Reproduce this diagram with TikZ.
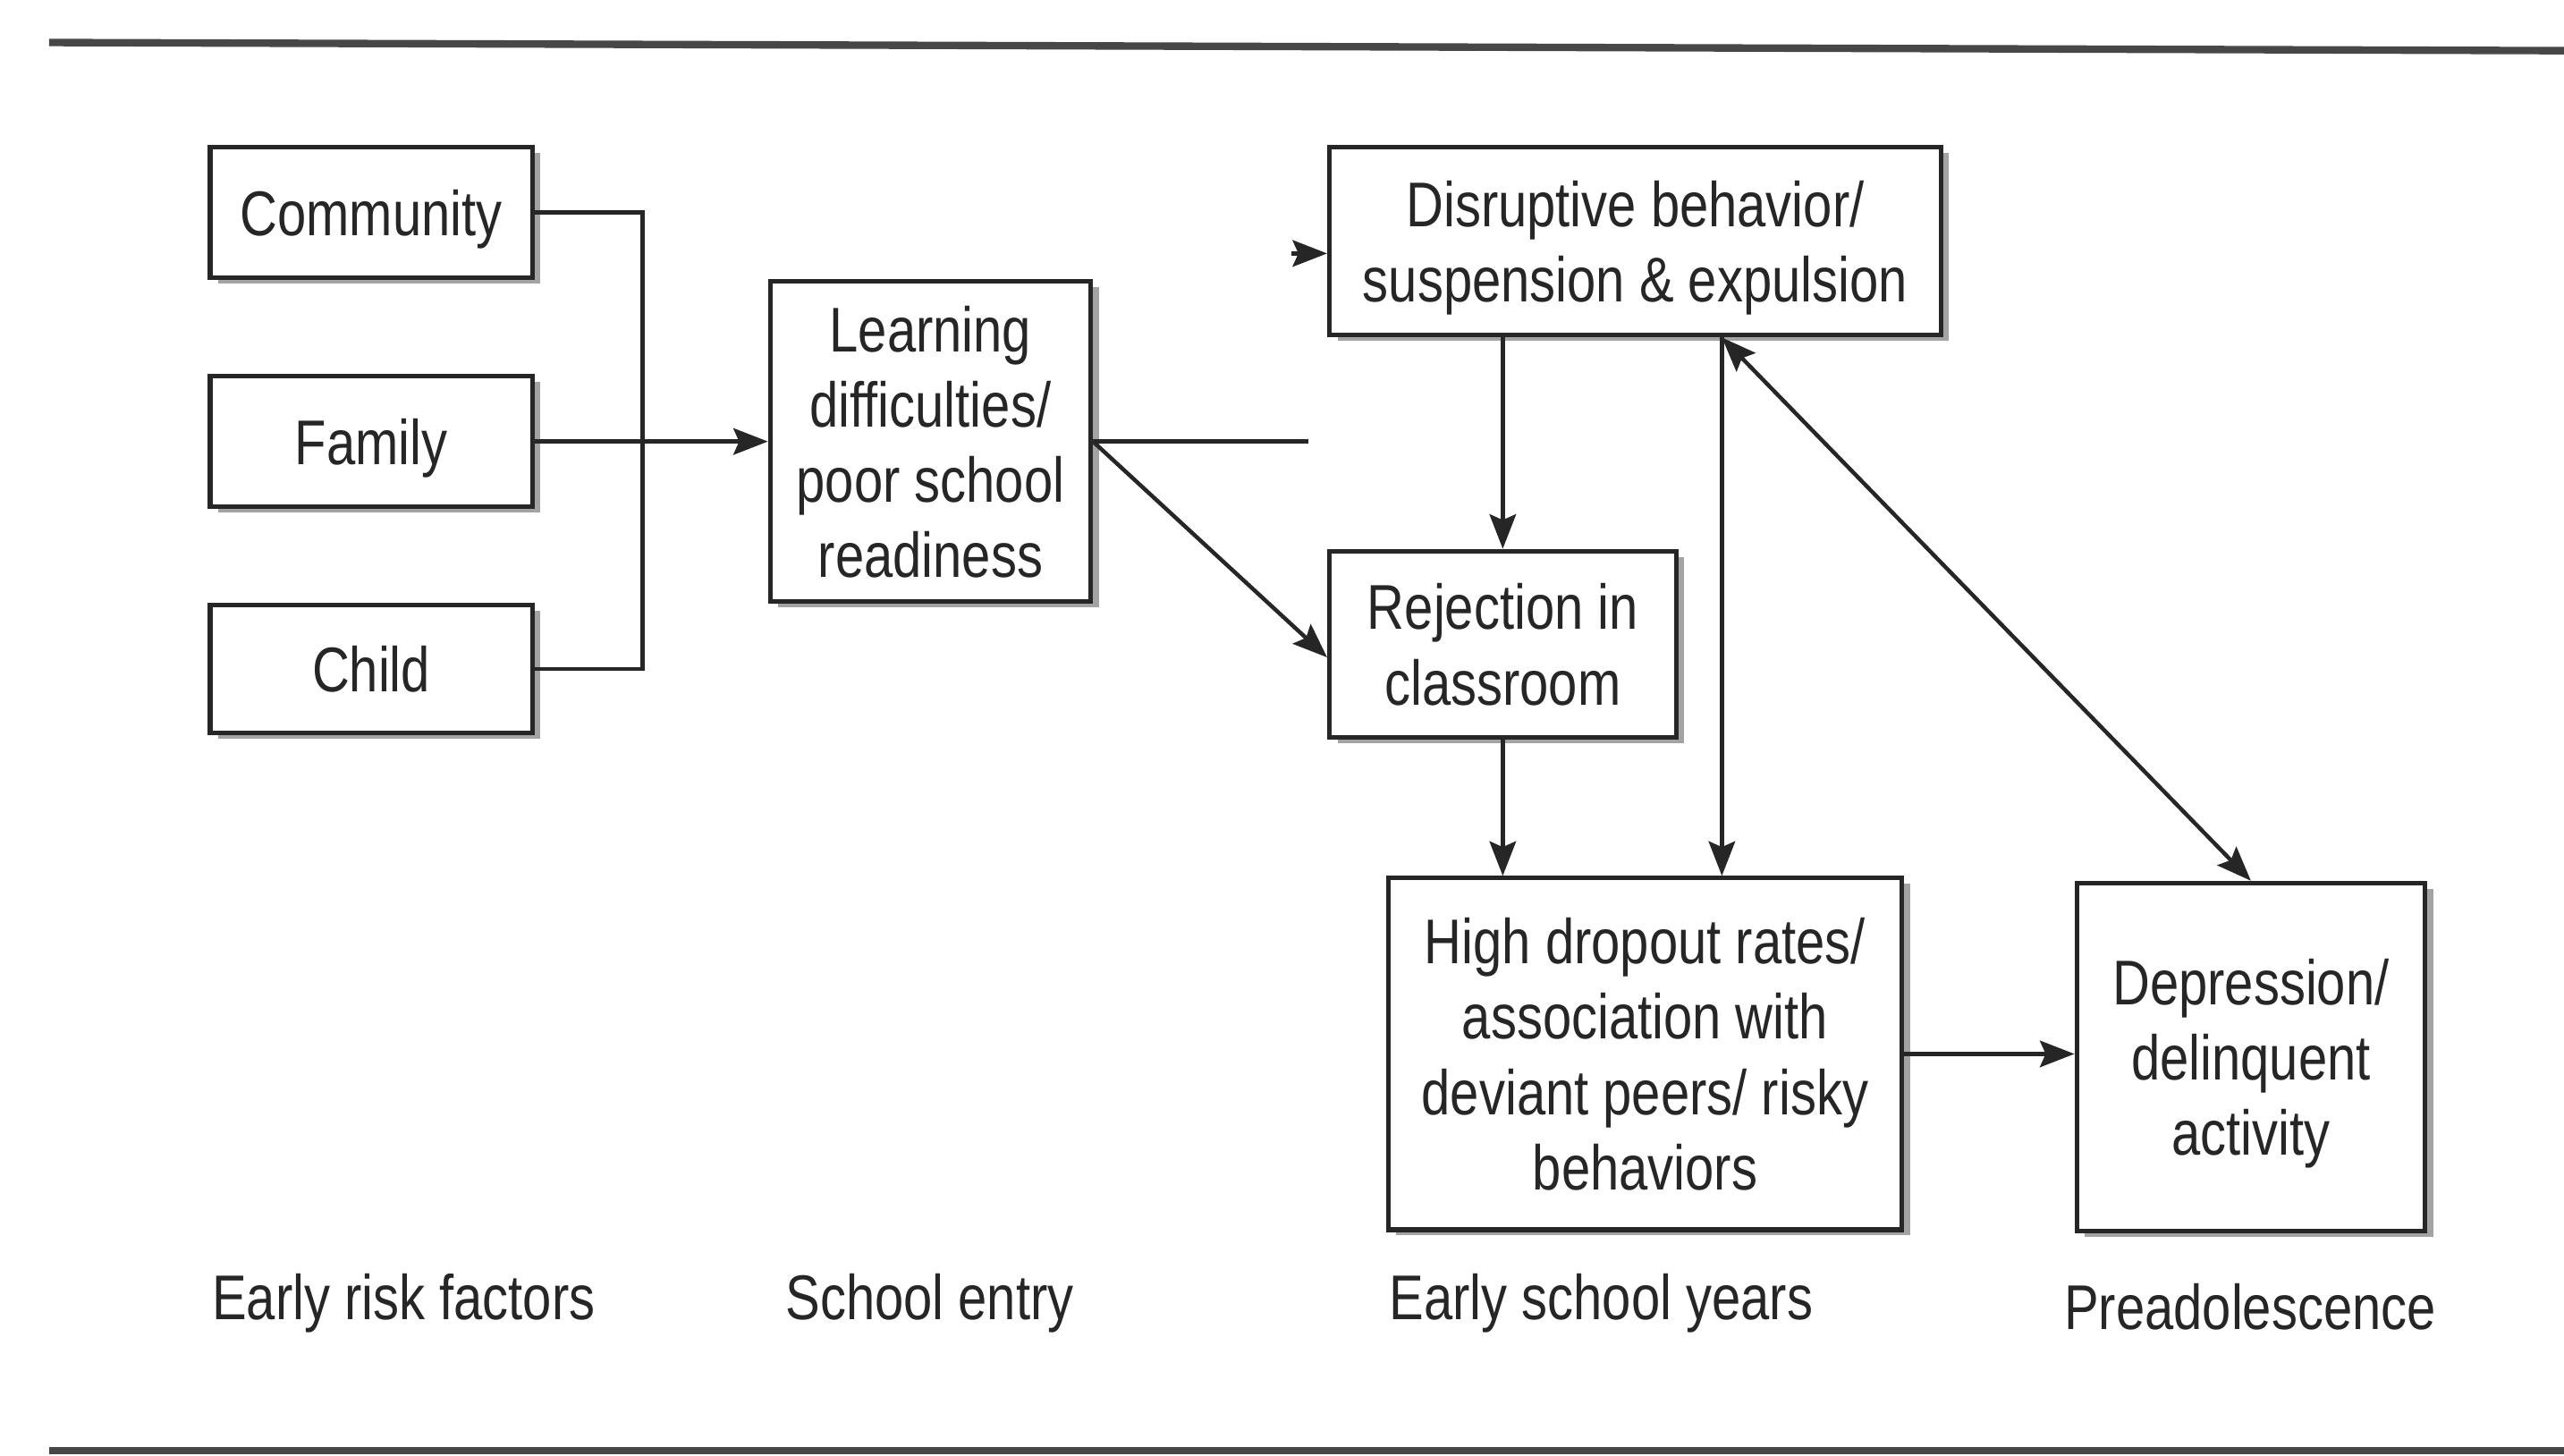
\documentclass[tikz,border=0pt]{standalone}
\usepackage{fontspec}
\setmainfont{Liberation Sans}[FakeStretch=0.82]
\usepackage{xcolor}
\definecolor{scanink}{HTML}{262626}
\definecolor{scanshade}{HTML}{8C8C8C}
\usepackage{tikz}
\usetikzlibrary{arrows.meta,shadows,calc}
\newcommand{\boxfont}{\fontsize{11pt}{13.1pt}\selectfont}
\tikzset{
  riskbox/.style={
    draw=scanink, fill=white, line width=0.8pt,
    minimum width=#1, inner sep=2pt, align=center, text depth=0pt,
    font=\boxfont, text=scanink,
    drop shadow={shadow xshift=1.4pt, shadow yshift=-1pt,
                 fill=scanshade, opacity=0.8}
  },
  stagelabel/.style={font=\boxfont, text=scanink, inner sep=0pt},
  flowline/.style={draw=scanink, line width=0.7pt},
  flowarr/.style={flowline, -{Stealth[length=6pt,width=4.6pt,inset=1pt]}},
  flowboth/.style={flowline,
    {Stealth[length=6pt,width=4.6pt,inset=1pt]}-{Stealth[length=6pt,width=4.6pt,inset=1pt]}},
  rulebar/.style={draw=scanink!85, line width=1.3pt}
}

\begin{document}
\begin{tikzpicture}
  \useasboundingbox (0,0) rectangle (15.68,-8.90);

  \draw[rulebar] (0.30,-0.26) -- (15.68,-0.31);
  \draw[rulebar] (0.30,-8.87) -- (15.68,-8.87);

  \node[riskbox=1.97cm, minimum height=0.80cm] (community) at (2.27,-1.30) {Community};
  \node[riskbox=1.97cm, minimum height=0.80cm] (family)    at (2.27,-2.70) {Family};
  \node[riskbox=1.97cm, minimum height=0.78cm] (child)     at (2.27,-4.09) {Child};

  \node[riskbox=1.96cm, minimum height=1.96cm] (learning) at (5.69,-2.70)
    {Learning\\difficulties/\\poor school\\readiness};

  \node[riskbox=3.74cm, minimum height=1.15cm] (disruptive) at (10.00,-1.475)
    {Disruptive behavior/\\suspension \& expulsion};
  \node[riskbox=2.12cm, minimum height=1.14cm] (rejection) at (9.19,-3.94)
    {Rejection in\\classroom};
  \node[riskbox=3.14cm, minimum height=2.15cm] (dropout) at (10.06,-6.445)
    {High dropout rates/\\association with\\deviant peers/ risky\\behaviors};
  \node[riskbox=2.13cm, minimum height=2.13cm] (depression) at (13.765,-6.465)
    {Depression/\\delinquent\\activity};

  \node[stagelabel, anchor=west] (earlyrisk)  at (1.29,-7.97)  {Early risk factors};
  \node[stagelabel]              (entry)      at (5.685,-7.97) {School entry};
  \node[stagelabel, anchor=west] (earlyyears) at (8.49,-7.97)  {Early school years};
  \node[stagelabel]              (preadol)    at (13.76,-7.99) {Preadolescence};

  \coordinate (joint)    at (3.93,-2.70);
  \coordinate (stub)     at (8.00,-2.70);
  \coordinate (straytail) at (7.90,-1.55);
  \coordinate (linkx)    at (10.53,0);

  \draw[flowline] (community.east) -| (joint) |- (child.east);
  \draw[flowarr]  (family.east) -- (learning.west);
  \draw[flowline] (learning.east) -- (stub);
  \draw[flowarr]  (straytail) -- (straytail -| disruptive.west);
  \draw[flowarr]  (learning.east) -- ([yshift=-0.08cm]rejection.west);
  \draw[flowarr]  (disruptive.south -| rejection.north) -- (rejection.north);
  \draw[flowarr]  (rejection.south) -- (rejection.south |- dropout.north);
  \draw[flowarr]  (disruptive.south -| linkx) -- (dropout.north -| linkx);
  \draw[flowboth] (disruptive.south -| linkx) -- (depression.north);
  \draw[flowarr]  (dropout.east) -- (dropout.east -| depression.west);
\end{tikzpicture}
\end{document}
